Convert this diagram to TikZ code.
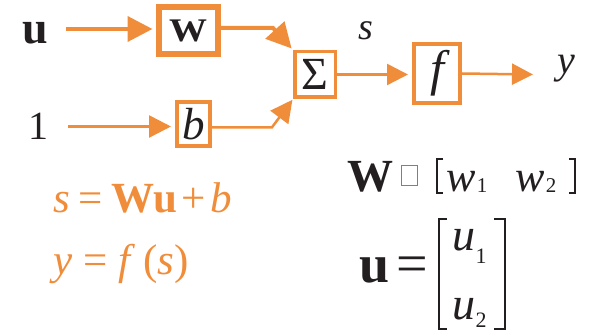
\documentclass[tikz,border=0pt]{standalone}
\usepackage{fontspec}
\setmainfont{Liberation Serif}[ItalicFont={Liberation Serif Italic},BoldFont={Liberation Serif Bold},BoldItalicFont={Liberation Serif Bold Italic}]
\usetikzlibrary{arrows.meta}
\definecolor{oc}{RGB}{240,141,58}
\definecolor{tx}{RGB}{35,31,32}
\tikzset{
  obox/.style={draw=oc, fill=white, inner sep=0pt, text=tx},
  oarr/.style={draw=oc, line width=#1, line join=miter},
  tip/.style={-{Triangle[length=#1,width=#1]}},
  lbl/.style={inner sep=0pt, anchor=base west, text=tx},
  eq/.style={inner sep=0pt, anchor=base west, text=oc},
  brk/.style={draw=tx, line width=1.6pt},
}
\newcommand{\fs}[1]{\fontsize{#1}{#1}\selectfont}
\begin{document}
\begin{tikzpicture}[x=1pt,y=-1pt]
\useasboundingbox (0,0) rectangle (594,331);
% input labels
\node[lbl, font=\fs{46}\bfseries] (ul) at (22,44) {u};
\node[lbl, font=\fs{40}] (one) at (28,140) {1};
% boxes
\node[obox, line width=6pt, minimum width=59pt, minimum height=47pt, font=\fs{33}\bfseries] (Wb) at (188,30.5) {\scalebox{1.15}[1]{W}};
\node[obox, line width=4pt, minimum width=33pt, minimum height=44pt, font=\fs{45}\itshape] (bb) at (193.5,124) {b};
\node[obox, line width=3.5pt, minimum width=40.5pt, minimum height=45.5pt, font=\fs{46}] (S) at (315,74.5) {Σ};
\node[obox, line width=4pt, minimum width=46pt, minimum height=59pt, font=\fs{50}\itshape] (fb) at (437,73.5) {f};
% free ends and bends
\coordinate (us) at (66,29);
\coordinate (os) at (68,126.5);
\coordinate (k1) at (273,28);
\coordinate (k2) at (272,127.3);
\coordinate (ye) at (533,74.5);
% connectors
\draw[oarr=4pt, tip=25pt, shorten >=3pt] (us) -- (us -| Wb.west);
\draw[oarr=2.5pt, tip=22pt, shorten >=4pt] (os) -- (os -| bb.west);
\draw[oarr=4pt, tip=25pt, shorten >=2pt] (Wb.east |- k1) -- (k1) -- (S.north west);
\draw[oarr=2.5pt, tip=22pt, shorten >=1pt] (bb.east |- k2) -- (k2) -- (S.south west);
\draw[oarr=2.5pt, tip=21pt, shorten >=4pt] (S.east) -- (S.east -| fb.west);
\draw[oarr=2.5pt, tip=21pt] (fb.east) -- (ye);
% signal labels
\node[lbl, font=\fs{38}\itshape] (sl) at (358,40) {s};
\node[lbl, font=\fs{40}\itshape] (yl) at (557,74) {y};
% orange equations
\node[eq, font=\fs{43}] (e1) at (53,212) {\textit{s}\hspace{0.2em}=\hspace{0.2em}\textbf{Wu}\hspace{0.1em}+\hspace{0.1em}\textit{b}};
\node[eq, font=\fs{43}] (e2) at (53,274) {\textit{y}\hspace{0.25em}=\hspace{0.25em}\textit{f}\hspace{0.2em}(\textit{s})};
% W definition
\node[lbl, font=\fs{46}\bfseries] (Wd) at (347,192) {W};
\node[draw=gray, line width=0.8pt, inner sep=0pt, minimum width=16pt, minimum height=20pt] (gb) at (409,175) {};
\draw[brk] (443,159) -- (437,159) -- (437,193) -- (443,193);
\node[lbl, font=\fs{44}\itshape] (w1) at (446,192) {w};
\node[lbl, font=\fs{21}] (w1s) at ([xshift=1pt,yshift=-1pt]w1.base east) {1};
\node[lbl, font=\fs{44}\itshape] (w2) at (515,192) {w};
\node[lbl, font=\fs{21}] (w2s) at ([xshift=1pt,yshift=-1pt]w2.base east) {2};
\draw[brk] (569,159) -- (575,159) -- (575,193) -- (569,193);
% u definition
\node[lbl, font=\fs{54}\bfseries] (ud) at (359,282) {u};
\node[lbl, font=\fs{56}] (eqs) at (396,282) {=};
\draw[brk] (447,219) -- (439,219) -- (439,329) -- (447,329);
\node[lbl, font=\fs{46}\itshape] (u1) at (452,250) {u};
\node[lbl, font=\fs{22}] (u1s) at ([xshift=0pt,yshift=-13pt]u1.base east) {1};
\node[lbl, font=\fs{46}\itshape] (u2) at (452,319) {u};
\node[lbl, font=\fs{22}] (u2s) at ([xshift=0pt,yshift=-8pt]u2.base east) {2};
\draw[brk] (494,219) -- (505,219) -- (505,329) -- (494,329);
\end{tikzpicture}
\end{document}
